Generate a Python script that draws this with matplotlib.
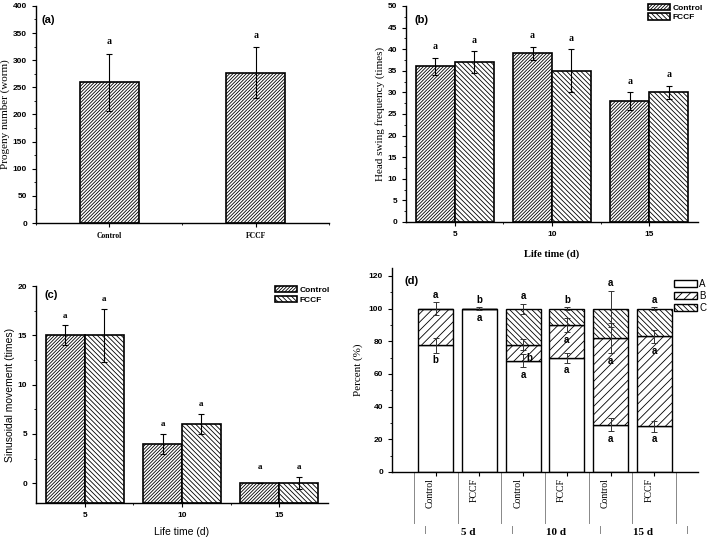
import numpy as np
import matplotlib
matplotlib.use("Agg")
import matplotlib.pyplot as plt
from matplotlib.patches import Patch
from matplotlib.ticker import MultipleLocator, FixedLocator

# ==========================================
# data
# ==========================================
prog_groups = ["Control", "FCCF"]
prog_mean = [259, 277]
prog_err = [53, 47]
prog_letters = ["a", "a"]

days = [5, 10, 15]
head_ctrl = [36, 39, 28]
head_ctrl_err = [2, 1.5, 2]
head_fccf = [37, 35, 30]
head_fccf_err = [2.5, 5, 1.5]

sin_ctrl = [15, 4, 0]
sin_ctrl_err = [1, 1, 0]
sin_fccf = [15, 6, 0]
sin_fccf_err = [2.7, 1, 0.6]

pct_cols = ["Control", "FCCF", "Control", "FCCF", "Control", "FCCF"]
pct_days = ["5 d", "10 d", "15 d"]
pct_A = [77.5, 100, 68, 70, 29, 28]
pct_B = [22.5, 0, 10, 20, 53, 55]
pct_C = [0, 0, 22, 10, 18, 17]
err_A = [4.5, 1, 4, 3, 4, 3.5]
err_B = [4, 0, 3.5, 4, 9, 4]
err_C = [0, 0, 3, 1, 11, 0.8]
let_top = ["a", "b", "a", "b", "a", "a"]
let_mid = ["", "", "b", "a", "a", "a"]
let_bot = ["b", "a", "a", "a", "a", "a"]

# ==========================================
# style
# ==========================================
plt.rcParams["hatch.linewidth"] = 0.6
plt.rcParams["axes.linewidth"] = 1.0
SANS = "Liberation Sans"
SERIF = "Liberation Serif"
H_CTRL = "/" * 10
H_FCCF = "\\" * 7
H_B = "////"
H_C = "\\" * 6
ekw = dict(fmt="none", ecolor="black", elinewidth=0.8, capsize=2, capthick=0.8)


def style_ax(ax):
    for s in ["top", "right"]:
        ax.spines[s].set_visible(False)
    ax.tick_params(which="major", direction="out", length=3, width=0.8, labelsize=6)
    ax.tick_params(which="minor", direction="out", length=1.5, width=0.6)
    for lab in ax.get_xticklabels() + ax.get_yticklabels():
        lab.set_family(SANS)
        lab.set_weight("bold")


fig = plt.figure(figsize=(7.09, 5.38), dpi=100)

# ---------------- (a) ----------------
ax = fig.add_axes([0.0508, 0.5855, 0.4132, 0.4035])
x = np.arange(1, len(prog_groups) + 1)
ax.bar(x, prog_mean, width=0.4, color="white", edgecolor="black", hatch=H_CTRL, linewidth=1.2)
ax.errorbar(x, prog_mean, yerr=prog_err, **ekw)
for xi, m, e, l in zip(x, prog_mean, prog_err, prog_letters):
    ax.text(xi, m + e + 14, l, ha="center", va="bottom", fontsize=7, family=SERIF, weight="bold")
ax.set_xlim(0.5, 2.5)
ax.set_ylim(0, 400)
ax.yaxis.set_major_locator(MultipleLocator(50))
ax.yaxis.set_minor_locator(MultipleLocator(25))
ax.set_xticks(x)
ax.xaxis.set_minor_locator(FixedLocator([0.5, 1.5, 2.5]))
style_ax(ax)
ax.set_xticklabels(prog_groups, family=SERIF, weight="bold", fontsize=5.5)
ax.set_ylabel("Progeny number (worm)", family=SERIF, fontsize=8, labelpad=2)
ax.text(0.02, 0.96, "(a)", transform=ax.transAxes, fontsize=8, weight="bold", family=SANS, va="top")

# ---------------- (b) ----------------
ax = fig.add_axes([0.5726, 0.5874, 0.4119, 0.4016])
d = np.array(days)
ax.bar(d - 1, head_ctrl, width=2, color="white", edgecolor="black", hatch=H_CTRL, linewidth=1.2, label="Control")
ax.bar(d + 1, head_fccf, width=2, color="white", edgecolor="black", hatch=H_FCCF, linewidth=1.2, label="FCCF")
ax.errorbar(d - 1, head_ctrl, yerr=head_ctrl_err, **ekw)
ax.errorbar(d + 1, head_fccf, yerr=head_fccf_err, **ekw)
for xs, m, e in [(d - 1, head_ctrl, head_ctrl_err), (d + 1, head_fccf, head_fccf_err)]:
    for xi, mi, ei in zip(xs, m, e):
        ax.text(xi, mi + ei + 1.5, "a", ha="center", va="bottom", fontsize=7, family=SERIF, weight="bold")
ax.set_xlim(2.5, 17.5)
ax.set_ylim(0, 50)
ax.set_xticks(days)
ax.xaxis.set_minor_locator(FixedLocator([7.5, 12.5]))
ax.yaxis.set_major_locator(MultipleLocator(5))
ax.yaxis.set_minor_locator(MultipleLocator(2.5))
style_ax(ax)
ax.set_ylabel("Head swing frequency (times)", family=SERIF, fontsize=8, labelpad=2)
ax.set_xlabel("Life time (d)", family=SERIF, fontsize=7.5, weight="bold", labelpad=8)
ax.text(0.03, 0.96, "(b)", transform=ax.transAxes, fontsize=8, weight="bold", family=SANS, va="top")
ax.legend(loc="upper right", bbox_to_anchor=(1.03, 1.03), frameon=False, prop=dict(family=SANS, size=6, weight="bold"),
          handlelength=2.6, handleheight=0.8, borderpad=0, labelspacing=0.2, handletextpad=0.3)

# ---------------- (c) ----------------
ax = fig.add_axes([0.0508, 0.065, 0.4118, 0.4034])
base = -2
ax.bar(d - 1, np.array(sin_ctrl) - base, bottom=base, width=2, color="white", edgecolor="black", hatch=H_CTRL,
       linewidth=1.2, label="Control")
ax.bar(d + 1, np.array(sin_fccf) - base, bottom=base, width=2, color="white", edgecolor="black", hatch=H_FCCF,
       linewidth=1.2, label="FCCF")
ax.errorbar(d - 1, sin_ctrl, yerr=sin_ctrl_err, **ekw)
ax.errorbar(d + 1, sin_fccf, yerr=sin_fccf_err, **ekw)
for xs, m, e in [(d - 1, sin_ctrl, sin_ctrl_err), (d + 1, sin_fccf, sin_fccf_err)]:
    for xi, mi, ei in zip(xs, m, e):
        ax.text(xi, mi + max(ei, 0.6) + 0.6, "a", ha="center", va="bottom", fontsize=6.5, family=SERIF, weight="bold")
ax.set_xlim(2.5, 17.5)
ax.set_ylim(-2, 20)
ax.set_xticks(days)
ax.xaxis.set_minor_locator(FixedLocator([7.5, 12.5]))
ax.set_yticks([0, 5, 10, 15, 20])
ax.yaxis.set_minor_locator(FixedLocator([2.5, 7.5, 12.5, 17.5]))
style_ax(ax)
ax.set_ylabel("Sinusoidal movement (times)", family=SANS, fontsize=7.5, labelpad=2)
ax.set_xlabel("Life time (d)", family=SANS, fontsize=7.5, labelpad=6)
ax.text(0.03, 0.98, "(c)", transform=ax.transAxes, fontsize=8, weight="bold", family=SANS, va="top")
ax.legend(loc="upper right", bbox_to_anchor=(1.02, 1.02), frameon=False, prop=dict(family=SANS, size=6, weight="bold"),
          handlelength=2.6, handleheight=0.8, borderpad=0, labelspacing=0.2, handletextpad=0.3)

# ---------------- (d) ----------------
ax = fig.add_axes([0.5529, 0.1227, 0.4316, 0.3795])
pos = np.arange(1, len(pct_cols) + 1)
A = np.array(pct_A)
B = np.array(pct_B)
C = np.array(pct_C)
bkw = dict(width=0.8, edgecolor="black", linewidth=1.0, color="white")
ax.bar(pos, A, **bkw)
ax.bar(pos, B, bottom=A, hatch=H_B, **bkw)
ax.bar(pos, C, bottom=A + B, hatch=H_C, **bkw)
ekw_d = dict(fmt="none", ecolor="#333333", elinewidth=0.7, capsize=2, capthick=0.7)
ax.errorbar(pos, A, yerr=err_A, **ekw_d)
mb = B > 0
ax.errorbar(pos[mb], (A + B)[mb], yerr=np.array(err_B)[mb], **ekw_d)
mc = C > 0
ax.errorbar(pos[mc], (A + B + C)[mc], yerr=np.array(err_C)[mc], **ekw_d)
tkw = dict(ha="center", va="center", fontsize=7, family=SANS, weight="bold")
for i in range(len(pos)):
    top = A[i] + B[i] + C[i]
    etop = err_C[i] if C[i] > 0 else (err_B[i] if B[i] > 0 else err_A[i])
    ax.text(pos[i], top + etop + 4.5, let_top[i], **tkw)
    if let_mid[i]:
        dx = 0.15 if i == 2 else 0
        ax.text(pos[i] + dx, A[i] + B[i] - err_B[i] - 5, let_mid[i], **tkw)
    ax.text(pos[i], A[i] - err_A[i] - 4.5, let_bot[i], **tkw)
ax.set_xlim(0, 7)
ax.set_ylim(0, 125)
ax.set_yticks(np.arange(0, 121, 20))
ax.yaxis.set_minor_locator(MultipleLocator(10))
ax.set_xticks(pos)
ax.set_xticklabels([])
style_ax(ax)
ax.set_ylabel("Percent (%)", family=SERIF, fontsize=8, labelpad=4)
ax.text(0.04, 0.96, "(d)", transform=ax.transAxes, fontsize=8, weight="bold", family=SANS, va="top")

# category labels below the axis
trans = ax.get_xaxis_transform()
for p, lab in zip(pos, pct_cols):
    ax.text(p - 0.12, -0.03, lab, transform=trans, rotation=90, ha="center", va="top",
            fontsize=7, family=SERIF, clip_on=False)
for xl in np.arange(0.5, 7, 1):
    ax.plot([xl, xl], [0, -0.25], transform=trans, color="#888888", lw=0.7, clip_on=False)
for xl in [0.75, 2.75, 4.75, 6.75]:
    ax.plot([xl, xl], [-0.265, -0.3], transform=trans, color="#888888", lw=0.7, clip_on=False)
for k, lab in enumerate(pct_days):
    ax.text(1.75 + 2 * k, -0.295, lab, transform=trans, ha="center", va="center",
            fontsize=8, family=SERIF, weight="bold", clip_on=False)

handles = [Patch(facecolor="white", edgecolor="black", label="A"),
           Patch(facecolor="white", edgecolor="black", hatch=H_B, label="B"),
           Patch(facecolor="white", edgecolor="black", hatch=H_C, label="C")]
ax.legend(handles=handles, loc="upper left", bbox_to_anchor=(0.905, 0.97), frameon=False,
          prop=dict(family=SANS, size=7), handlelength=2.4, handleheight=0.8, borderpad=0,
          labelspacing=0.2, handletextpad=0.2)

fig.savefig("out.png", dpi=100)
